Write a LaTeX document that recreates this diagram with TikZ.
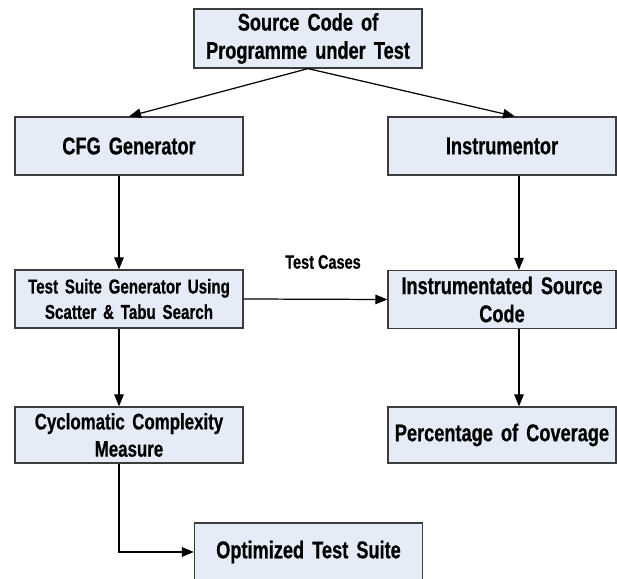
\documentclass[tikz,border=0pt]{standalone}
\usepackage{fontspec}
\setmainfont{Liberation Sans}[FakeStretch=0.75, BoldFeatures={FakeBold=0.6}]
\usepackage{tikz}
\usetikzlibrary{arrows.meta, calc}
\definecolor{boxfill}{RGB}{230, 236, 247}
\definecolor{boxline}{RGB}{60, 60, 60}

\begin{document}
\begin{tikzpicture}[
  stage/.style={draw=boxline, fill=boxfill, line width=0.7pt, minimum width=4.56cm, minimum height=1.16cm, text width=4.3cm, align=center, inner sep=2pt, font=\fontsize{13.8}{16}\selectfont\bfseries},
  flow/.style={-{Triangle[length=2.4mm, width=1.9mm]}, line width=0.7pt, black}
]
  \useasboundingbox (0,0) rectangle (12.34,-11.58);
  \node[stage, minimum height=1.18cm] (src) at (6.16, -0.77) {Source Code of\\Programme under Test};
  \node[stage] (cfg) at (2.58, -2.92) {CFG Generator};
  \node[stage] (instr) at (10.04, -2.92) {Instrumentor};
  \node[stage, font=\fontsize{11.5}{14.5}\selectfont\bfseries] (tsg) at (2.58, -5.98) {Test Suite Generator Using\\Scatter \& Tabu Search};
  \node[stage] (isc) at (10.04, -5.99) {Instrumentated Source\\Code};
  \node[stage, minimum height=1.12cm, font=\fontsize{12.8}{15.5}\selectfont\bfseries] (ccm) at (2.58, -8.70) {Cyclomatic Complexity\\Measure};
  \node[stage, minimum height=1.12cm] (poc) at (10.04, -8.70) {Percentage of Coverage};
  \node[stage] (ots) at (6.17, -11.04) {Optimized Test Suite};
  \node[font=\fontsize{11}{13}\selectfont\bfseries] (tc) at (6.46, -5.24) {Test Cases};

  % columns of the vertical links
  \coordinate (lx) at (2.38, 0);
  \coordinate (rx) at (10.38, 0);

  \draw[flow] (src.south) -- (cfg.north);
  \draw[flow] (src.south) -- ([xshift=0.26cm]instr.north);
  \draw[flow] (cfg.south -| lx) -- (tsg.north -| lx);
  \draw[flow] (instr.south -| rx) -- (isc.north -| rx);
  \draw[flow] (tsg.east) -- (isc.west);
  \draw[flow] (tsg.south -| lx) -- (ccm.north -| lx);
  \draw[flow] (isc.south -| rx) -- (poc.north -| rx);
  \draw[flow] (ccm.south -| lx) |- (ots.west);
\end{tikzpicture}
\end{document}
